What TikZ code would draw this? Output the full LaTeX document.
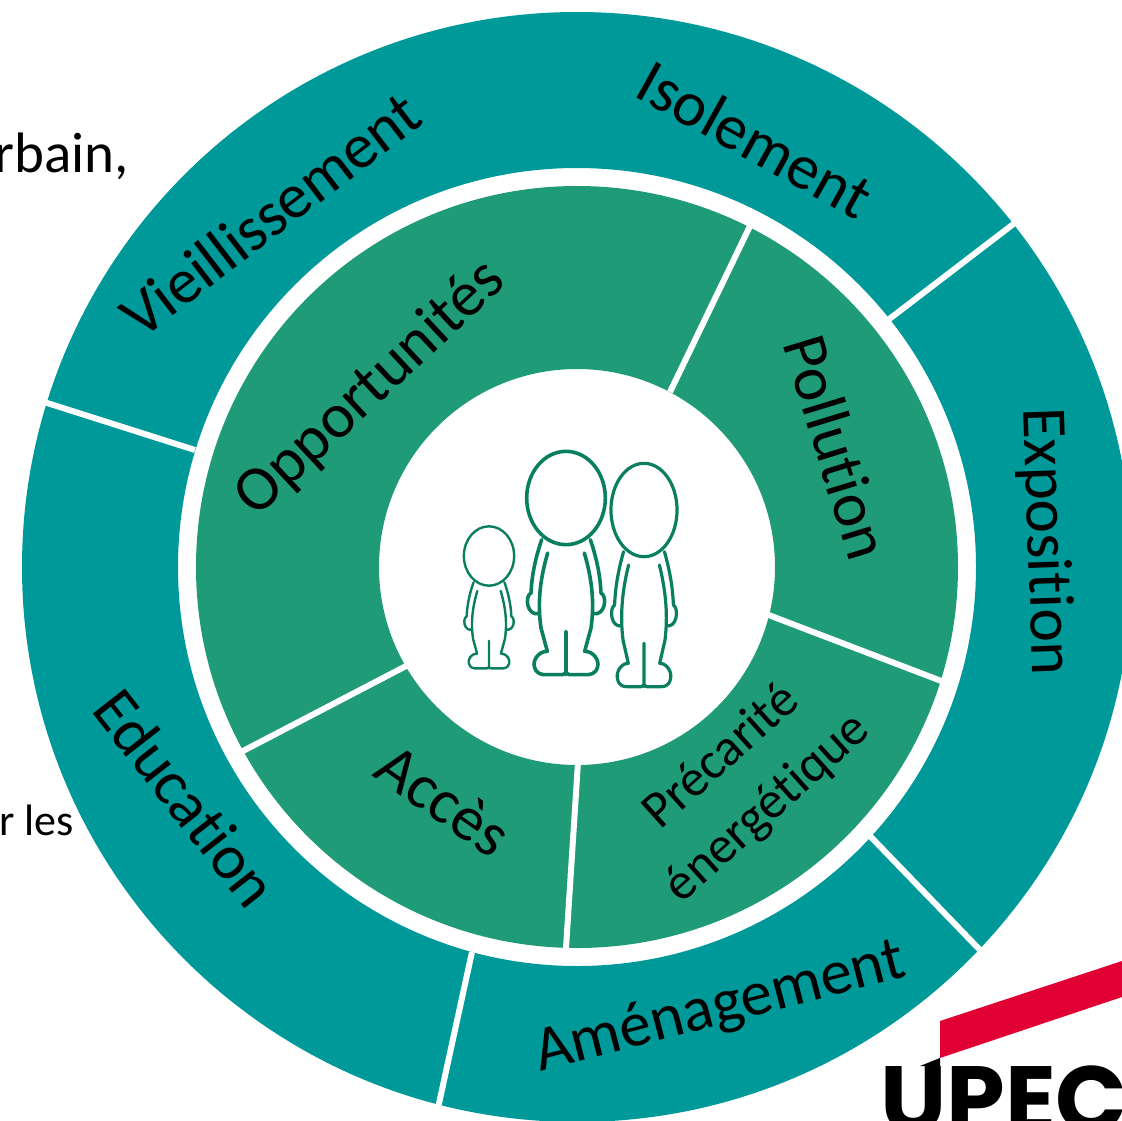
\documentclass[tikz,border=0pt]{standalone}
\usepackage{fontspec}
\setmainfont[Ligatures=NoCommon]{Carlito}
\newfontfamily\logofont{Poppins}
\definecolor{tealring}{HTML}{009999}
\definecolor{greenring}{HTML}{209B77}
\definecolor{persongreen}{HTML}{0A7F5F}
\definecolor{upecred}{HTML}{E00034}
\tikzset{
  ringlabel/.style={font=\fontsize{#1}{#1}\selectfont, text=black, inner sep=0pt, align=center},
  ringlabel/.default=63.5,
  sep/.style={draw=white, line width=6pt},
  personline/.style={draw=persongreen, line width=#1, line cap=round, line join=round},
  person/.pic={
    \draw[personline=\personlw]
      (0,0) ellipse[x radius=118, y radius=140]
      (0,400) -- (0,530)
      foreach \s in {-1,1} {
        (\s*73,125) .. controls (\s*95,190) and (\s*103,240) .. (\s*105,285)
        .. controls (\s*125,295) and (\s*118,355) .. (\s*80,347)
        (\s*55,165) .. controls (\s*80,250) and (\s*85,320) .. (\s*75,390) -- (\s*56,460)
        .. controls (\s*85,460) and (\s*100,490) .. (\s*95,505)
        .. controls (\s*90,530) and (\s*70,530) .. (\s*60,530) -- (\s*10,530) -- (0,525)
      };
  }
}
\newcommand{\personlw}{3.6pt}
\begin{document}
\begin{tikzpicture}[x=1pt,y=-1pt]
\useasboundingbox (0,0) rectangle (1122,1120);
\clip (0,0) rectangle (1122,1120);
\coordinate (c) at (577,567);
% rings
\fill[tealring,even odd rule] (c) circle[radius=555] (c) circle[radius=399];
\fill[greenring,even odd rule] (c) circle[radius=381] (c) circle[radius=198];
% separators
\coordinate (t1a) at (888,320); \coordinate (t1b) at (1016,222);
\coordinate (t2a) at (870,836); \coordinate (t2b) at (980,950);
\coordinate (t3a) at (472,952); \coordinate (t3b) at (438,1108);
\coordinate (t4a) at (195,450); \coordinate (t4b) at (44,402);
\draw[sep] (t1a) -- (t1b);
\draw[sep] (t2a) -- (t2b);
\draw[sep] (t3a) -- (t3b);
\draw[sep] (t4a) -- (t4b);
\coordinate (g1a) at (670,392); \coordinate (g1b) at (750,226);
\coordinate (g2a) at (766,614); \coordinate (g2b) at (944,682);
\coordinate (g3a) at (578,762); \coordinate (g3b) at (566,948);
\coordinate (g4a) at (408,665); \coordinate (g4b) at (241,752);
\draw[sep] (g1a) -- (g1b);
\draw[sep] (g2a) -- (g2b);
\draw[sep] (g3a) -- (g3b);
\draw[sep] (g4a) -- (g4b);
% outer labels
\node[ringlabel,rotate=37.5] (vi) at (270,214) {Vieillissement};
\node[ringlabel,rotate=-29] (is) at (755,139) {Isolement};
\node[ringlabel,rotate=-88] (ex) at (1045,542) {Exposition};
\node[ringlabel,rotate=-52] (ed) at (186,798) {Education};
\node[ringlabel,rotate=14.5] (am) at (720,1008) {Aménagement};
% inner labels
\node[ringlabel,rotate=43] (op) at (371,389) {Opportunités};
\node[ringlabel,rotate=-73] (po) at (837,447) {Pollution};
\node[ringlabel,rotate=-35] (ac) at (444,800) {Accès};
\node[ringlabel=52,rotate=42] (pr) at (745,783) {Précarité\\[17pt]énergétique};
% side text
\node[anchor=base east,inner sep=0pt,font=\fontsize{57}{57}\selectfont] (t1) at (129,172) {rbain,};
\node[anchor=base east,inner sep=0pt,font=\fontsize{44}{44}\selectfont] (t2) at (74,835) {r les};
% people
\coordinate (p1) at (566,498);
\coordinate (p2) at (644,510);
\coordinate (p3) at (489,556);
\pic[x=0.3333pt,y=-0.3333pt] at (p1) {person};
\renewcommand{\personlw}{3.2pt}
\pic[x=0.28pt,y=-0.3333pt] at (p2) {person};
\renewcommand{\personlw}{2.4pt}
\pic[x=0.213pt,y=-0.212pt] at (p3) {person};
% logo
\coordinate (r1) at (940,1021);\coordinate (r2) at (1122,961);\coordinate (r3) at (1122,997);\coordinate (r4) at (940,1058);
\fill[upecred] (r1) -- (r2) -- (r3) -- (r4) -- cycle;
\node[anchor=base west,inner sep=0pt,font=\logofont\bfseries\fontsize{94}{94}\selectfont] (logo) at (880,1132) {UPEC};
\coordinate (u1) at (920,1066);\coordinate (u2) at (940,1058);\coordinate (u3) at (940,1066);
\fill[black] (u1) -- (u2) -- (u3) -- cycle;
\end{tikzpicture}
\end{document}
